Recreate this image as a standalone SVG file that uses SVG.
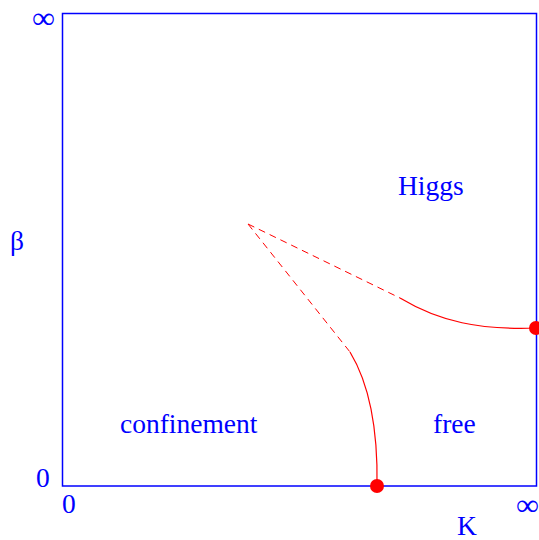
<svg xmlns="http://www.w3.org/2000/svg" width="539" height="540" viewBox="0 0 539 540">
<style>
text{font-family:"Liberation Serif","Times New Roman",serif;fill:#0000ff;font-size:27.5px}
.inf{font-size:30px}
.dash{fill:none;stroke:#ff0000;stroke-width:1;stroke-dasharray:7,5}
.solid{fill:none;stroke:#ff0000;stroke-width:1.2}
.dot{fill:#ff0000}
</style>
<rect width="539" height="540" fill="#ffffff"/>
<g id="frame"><rect x="62.5" y="13.5" width="474" height="472.5" fill="none" stroke="#0000ff" stroke-width="1.5"/></g>
<g id="labels">
<text class="inf" x="32" y="28" textLength="23" lengthAdjust="spacingAndGlyphs">∞</text>
<text x="36" y="487">0</text>
<text x="62" y="513">0</text>
<text class="inf" x="516" y="515" textLength="23" lengthAdjust="spacingAndGlyphs">∞</text>
<text x="457" y="535">K</text>
<text x="10" y="250">β</text>
<text x="398" y="195">Higgs</text>
<text x="120" y="433">confinement</text>
<text x="433" y="433">free</text>
</g>
<g id="connectors">
<path class="dash" d="M248,224 L400,298"/>
<path class="dash" d="M248,224 L350,352"/>
<path class="solid" d="M400,298 C440,322 480,330 536,328"/>
<path class="solid" d="M350,352 C370,385 378,430 377,486"/>
</g>
<g id="point-free"><circle class="dot" cx="377" cy="486" r="7"/></g>
<g id="point-higgs"><circle class="dot" cx="536" cy="328" r="7"/></g>
</svg>
